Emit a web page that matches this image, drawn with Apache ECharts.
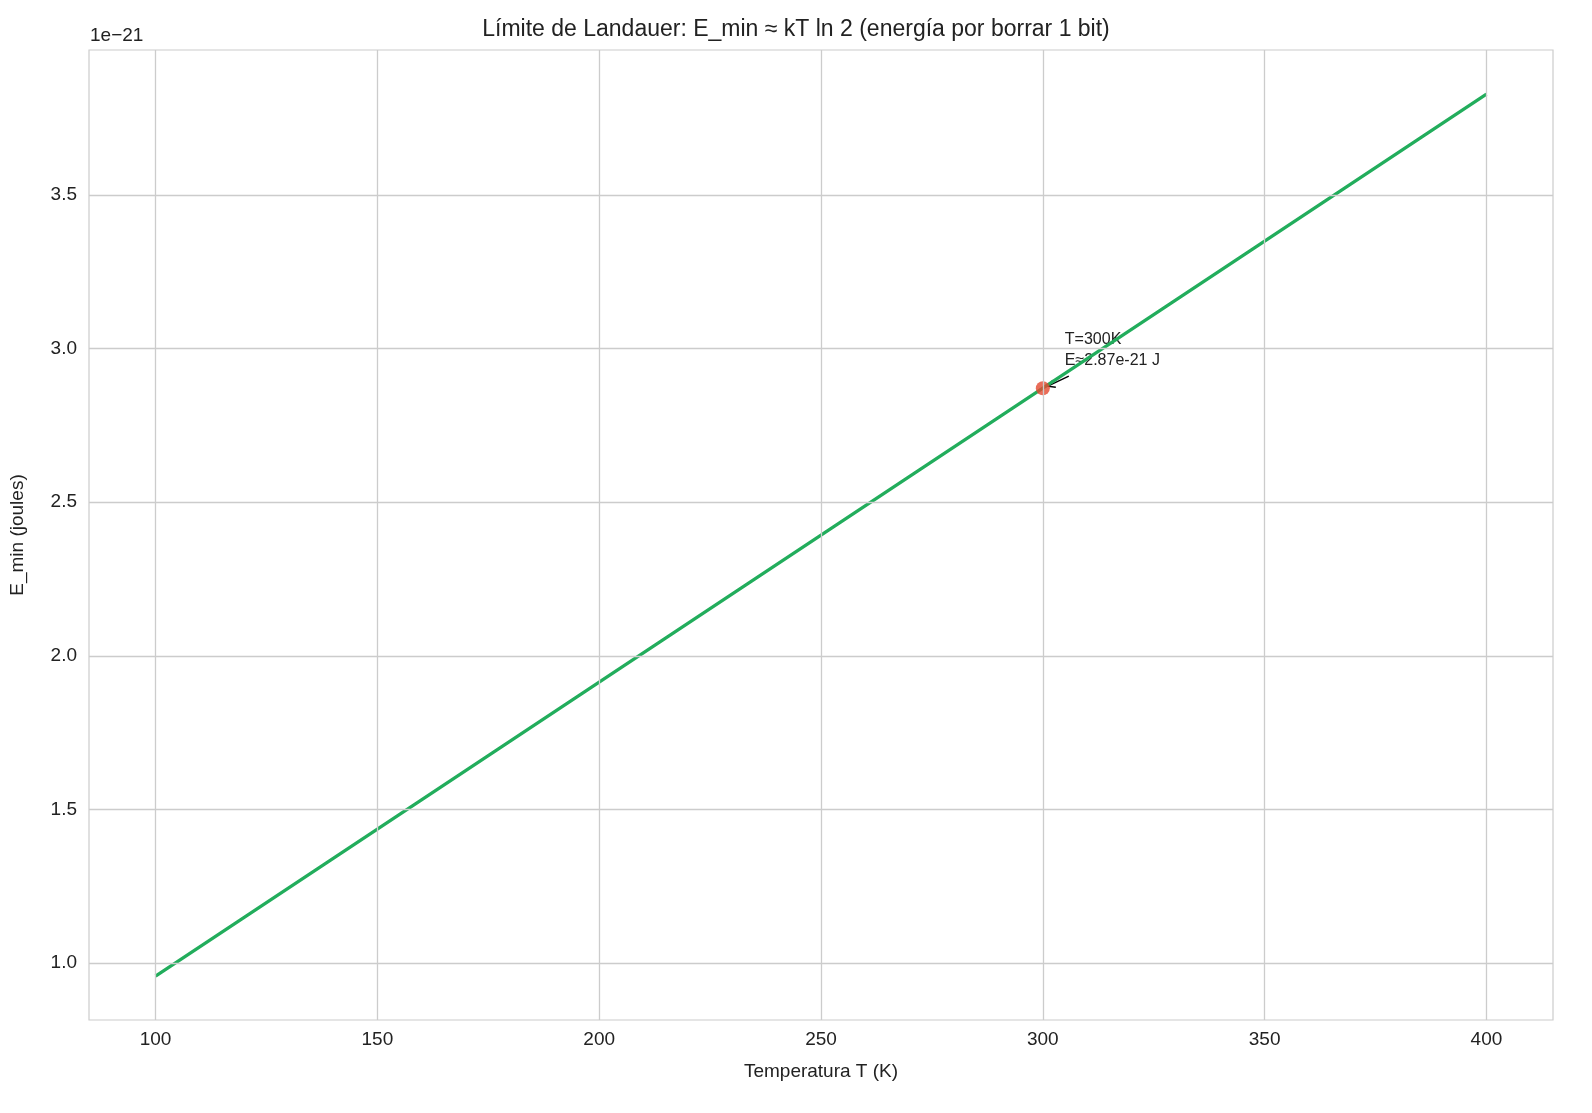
<!DOCTYPE html>
<html><head><meta charset="utf-8">
<script src="https://cdn.jsdelivr.net/npm/echarts@6/dist/echarts.min.js"></script>
<style>html,body{margin:0;background:#fff;overflow:hidden}#main{width:100vw;height:100vh}</style>
</head><body><div id="main"></div>
<script>
// temperatura (K) y energía mínima (en unidades de 1e-21 J)
const temps = [100, 200, 300, 400]
const energies = [0.957, 1.914, 2.871, 3.828]
const xTicks = [100, 150, 200, 250, 300, 350, 400]
const yTicks = [1.0, 1.5, 2.0, 2.5, 3.0, 3.5]
const marker = [300, 2.871]
const markerText = 'T=300K\nE≈2.87e-21 J'

const font = 'Liberation Sans, DejaVu Sans, sans-serif'
let myChart = echarts.init(document.getElementById('main'))

let option = {
    animation: false,
    title: {
        text: 'Límite de Landauer: E_min ≈ kT ln 2 (energía por borrar 1 bit)',
        left: 'center', top: 13,
        textStyle: {fontFamily: font, fontSize: 23, fontWeight: 'normal', color: '#222'}
    },
    grid: {left: 88, right: 39, top: 50, bottom: 93, show: true, borderColor: '#ccc', borderWidth: 1.2},
    xAxis: {
        type: 'value', min: 85, max: 415,
        name: 'Temperatura T (K)', nameLocation: 'middle', nameGap: 42,
        nameTextStyle: {fontFamily: font, fontSize: 19, color: '#222'},
        axisLine: {show: false}, axisTick: {show: false}, splitLine: {show: false},
        axisLabel: {customValues: xTicks, fontFamily: font, fontSize: 19, color: '#222', margin: 10}
    },
    yAxis: {
        type: 'value', min: 0.8145, max: 3.972,
        name: 'E_min (joules)', nameLocation: 'middle', nameGap: 62, nameRotate: 90,
        nameTextStyle: {fontFamily: font, fontSize: 19, color: '#222'},
        axisLine: {show: false}, axisTick: {show: false}, splitLine: {show: false},
        axisLabel: {customValues: yTicks, fontFamily: font, fontSize: 19, color: '#222', margin: 12,
            formatter: v => v.toFixed(1)}
    },
    series: [{
        type: 'line', data: temps.map((t, i) => [t, energies[i]]),
        showSymbol: false, lineStyle: {color: '#22ad5c', width: 3.3}, z: 3,
        markLine: {
            silent: true, symbol: 'none', label: {show: false}, animation: false,
            lineStyle: {color: '#cccccc', width: 1.3, type: 'solid'},
            data: xTicks.map(v => ({xAxis: v})).concat(yTicks.map(v => ({yAxis: v})))
        }
    }, {
        type: 'scatter', data: [marker], symbolSize: 14, z: 4,
        itemStyle: {color: '#e4492f'}
    }]
}
myChart.setOption(option)

// anotación con flecha
const p = myChart.convertToPixel({gridIndex: 0}, marker)
myChart.setOption({
    graphic: [
        {type: 'text', left: 90, top: 26, style: {text: '1e−21', font: '19px ' + font, fill: '#222'}},
        {type: 'text', x: p[0] + 22, y: p[1] - 59, style: {text: markerText, font: '16px ' + font, fill: '#222', lineHeight: 21}},
        {type: 'line', shape: {x1: p[0] + 26, y1: p[1] - 12, x2: p[0] + 5, y2: p[1] - 2}, style: {stroke: '#000', lineWidth: 1.4}},
        {type: 'polyline', shape: {points: [[p[0] + 10, p[1] - 8], [p[0] + 5, p[1] - 2], [p[0] + 13, p[1] - 1]]}, style: {stroke: '#000', lineWidth: 1.4, fill: null}}
    ]
})
</script></body></html>
